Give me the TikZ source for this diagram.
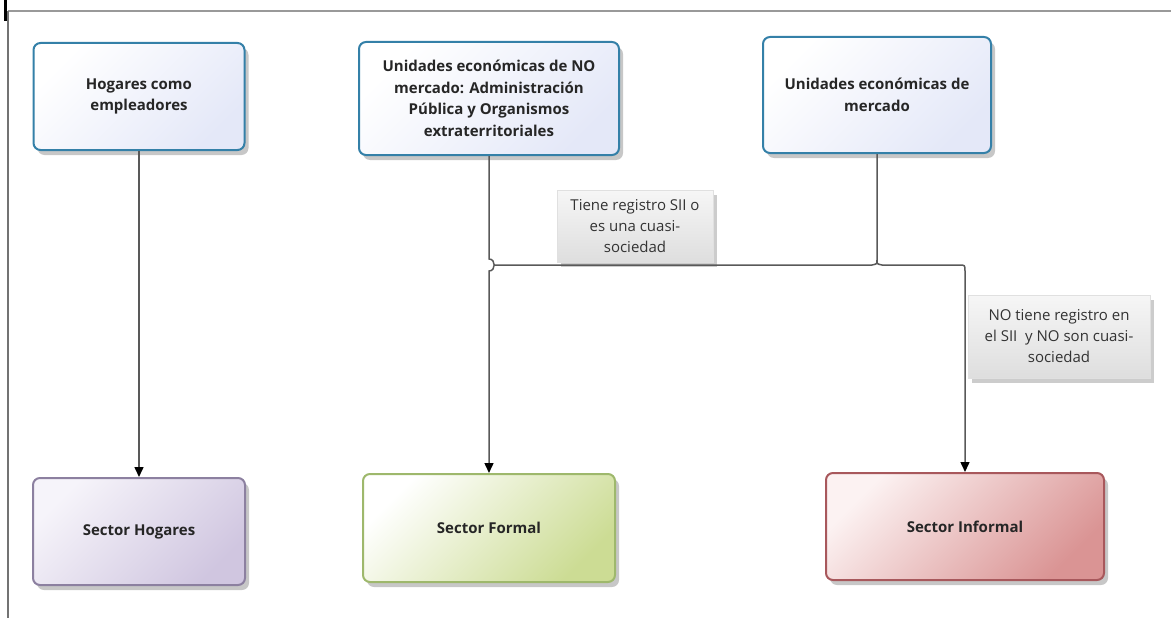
\documentclass[tikz,border=0pt]{standalone}
\usepackage{fontspec}
\setmainfont{Open Sans}
\usetikzlibrary{arrows.meta,shadows,calc}
\definecolor{boxblue}{RGB}{52,128,168}
\definecolor{lavend}{RGB}{228,232,248}
\definecolor{hogbd}{RGB}{140,128,160}
\definecolor{hoga}{RGB}{246,244,250}
\definecolor{hogb}{RGB}{208,198,224}
\definecolor{forbd}{RGB}{158,184,108}
\definecolor{forb}{RGB}{204,220,148}
\definecolor{infbd}{RGB}{168,88,92}
\definecolor{infa}{RGB}{252,242,242}
\definecolor{infb}{RGB}{218,148,148}
\definecolor{lina}{RGB}{246,246,246}
\definecolor{linb}{RGB}{222,222,222}
\begin{document}
\begin{tikzpicture}[x=1pt,y=-1pt,
  box/.style={rounded corners=7pt, line width=2pt, align=center,
    font=\bfseries\fontsize{15}{21.5}\selectfont, text=black!85,
    inner sep=4pt, shading angle=45,
    drop shadow={shadow xshift=4pt,shadow yshift=-5pt,opacity=0.22,fill=black}},
  topbox/.style={box, draw=boxblue, top color=white, bottom color=lavend, shading angle=45},
  hogbox/.style={box, draw=hogbd, top color=hoga, bottom color=hogb, shading angle=45},
  forbox/.style={box, draw=forbd, top color=white, bottom color=forb, shading angle=45},
  infbox/.style={box, draw=infbd, top color=infa, bottom color=infb, shading angle=45},
  lbl/.style={draw=black!12, line width=0.6pt, top color=lina, bottom color=linb,
    align=center, font=\fontsize{15}{21}\selectfont, text=black!80, inner sep=2pt,
    drop shadow={shadow xshift=4pt,shadow yshift=-5pt,opacity=0.2,fill=black}},
  conn/.style={draw=black!65, line width=1.5pt},
  arr/.style={conn, -{Triangle[length=10pt,width=9pt,color=black]}}
]
\useasboundingbox (0,0) rectangle (1171,618);
% frame
\draw[black!40, line width=2pt] (1171,11.5) -- (8,11.5);
\draw[black!55, line width=1.5pt] (8,11) -- (8,618);
\draw[black, line width=3pt] (5,0) -- (5,21);

% top boxes
\node[topbox, minimum width=211pt, minimum height=107pt] (hog) at (139,96.5)
  {Hogares como\\empleadores};
\node[topbox, minimum width=260pt, minimum height=113pt] (nom) at (489,98.5)
  {Unidades económicas de NO\\mercado: Administración\\Pública y Organismos\\extraterritoriales};
\node[topbox, minimum width=228pt, minimum height=116pt] (mer) at (877,95)
  {Unidades económicas de\\mercado};

% bottom boxes
\node[hogbox, minimum width=212pt, minimum height=107pt] (sh) at (139,531.5) {Sector Hogares};
\node[forbox, minimum width=252pt, minimum height=108pt] (sf) at (489,528) {Sector Formal};
\node[infbox, minimum width=278pt, minimum height=107pt] (si) at (965,526.5) {Sector Informal};

% labels
\node[lbl, minimum width=156pt, minimum height=72pt] (l1) at (635,226)
  {Tiene registro SII o\\es una cuasi-\\sociedad};
\node[lbl, minimum width=182pt, minimum height=83pt] (l2) at (1059,336.5)
  {NO tiene registro en\\el SII\ \ y NO son cuasi-\\sociedad};

% junction coordinates
\coordinate (j1) at (489,265);
\coordinate (j2) at (877,265);
\coordinate (c3) at (965,265);

% connectors
\draw[arr] (hog.south) -- (sh.north);
\draw[arr] (nom.south) -- ($(j1)+(0,-6)$) .. controls ($(j1)+(7,-6)$) and ($(j1)+(7,6)$) .. ($(j1)+(0,6)$) -- (sf.north);
\draw[conn] (mer.south) -- ($(j2)+(0,-5)$) .. controls ($(j2)+(0,-1)$) .. ($(j2)+(-5,0)$) -- ($(j1)+(5,0)$);
\draw[arr] ($(j2)+(0,-5)$) .. controls ($(j2)+(0,-1)$) .. ($(j2)+(5,0)$) -- ($(c3)+(-6,0)$)
  .. controls (c3) .. ($(c3)+(0,6)$) -- (si.north);
\end{tikzpicture}
\end{document}
